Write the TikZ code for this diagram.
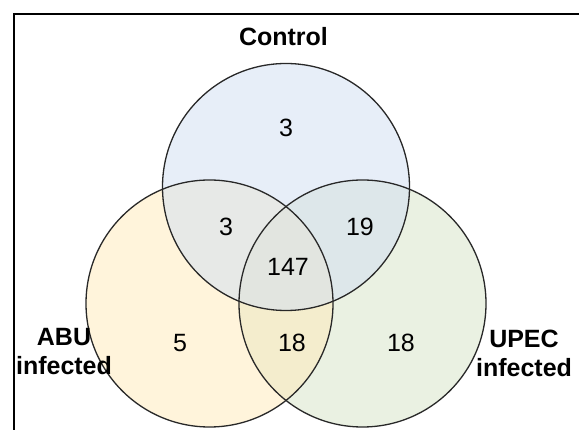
\documentclass[tikz,border=0pt]{standalone}
\usepackage{fontspec}
\setmainfont{Liberation Sans}
\definecolor{ctrlfill}{RGB}{209,223,243}
\definecolor{abufill}{RGB}{255,235,185}
\definecolor{upecfill}{RGB}{215,229,199}
\definecolor{ringcol}{RGB}{40,40,40}
\begin{document}
\begin{tikzpicture}[x=1pt,y=-1pt,
  setfill/.style={fill=#1,fill opacity=0.5},
  setring/.style={draw=ringcol,line width=1.3pt},
  setlabel/.style={font=\bfseries\fontsize{25}{29}\selectfont,align=center,inner sep=0pt},
  count/.style={font=\fontsize{25}{28}\selectfont,inner sep=0pt}]
  \useasboundingbox (0,0) rectangle (579,430);
  \clip (0,0) rectangle (579,430);
  \fill[white] (0,0) rectangle (579,430);
  % outer frame (right and bottom edges lie beyond the page)
  \draw[line width=2pt,black] (14,14) rectangle (620,470);

  % the three sets, translucent so that overlaps mix
  \fill[setfill=upecfill] (362.5,303.5) circle[radius=123.5];
  \fill[setfill=abufill] (209.5,303.5) circle[radius=123.5];
  \fill[setfill=ctrlfill] (286,187) circle[radius=123.5];
  \draw[setring] (209.5,303.5) circle[radius=123.5];
  \draw[setring] (362.5,303.5) circle[radius=123.5];
  \draw[setring] (286,187) circle[radius=123.5];

  % set names
  \node[setlabel,anchor=base] (ctrlname) at (283.5,46) {Control};
  \node[setlabel,anchor=base] (abuname) at (64,375) {ABU\\infected};
  \node[setlabel,anchor=base] (upecname) at (524,377) {UPEC\\infected};

  % region counts
  \node[count] (nc) at (286,128) {3};
  \node[count] (nca) at (226,227) {3};
  \node[count] (ncu) at (360,227) {19};
  \node[count] (ncau) at (288,267) {147};
  \node[count] (na) at (180,343) {5};
  \node[count] (nau) at (292,343) {18};
  \node[count] (nu) at (401,343) {18};
\end{tikzpicture}
\end{document}
